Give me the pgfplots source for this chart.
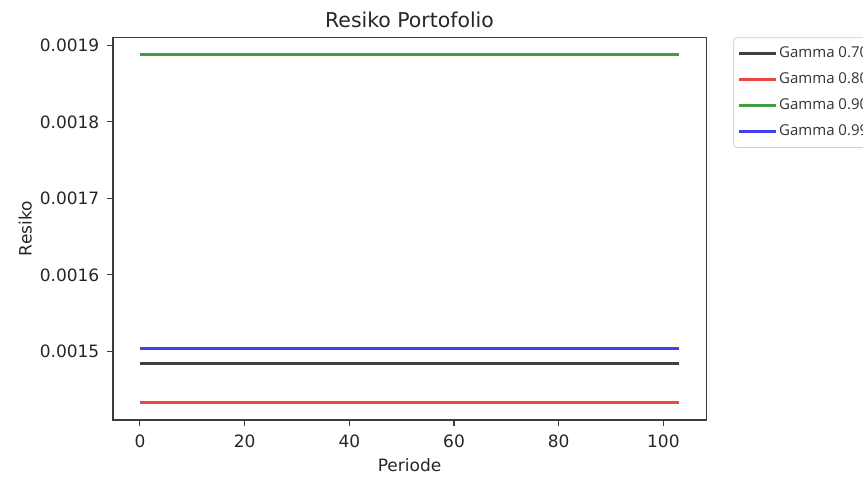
\documentclass[border=0pt]{standalone}
\usepackage{pgfplots}
\pgfplotsset{compat=1.18}
\usepackage{fontspec}
\setmainfont{DejaVu Sans}
\newfontfamily\legfont{Open Sans}
\definecolor{cK}{RGB}{64,64,64}
\definecolor{cR}{RGB}{240,68,68}
\definecolor{cG}{RGB}{64,158,64}
\definecolor{cB}{RGB}{64,64,240}
\definecolor{axgray}{RGB}{60,60,60}
\pgfplotsset{every axis title shift=0pt}
\begin{document}
\begin{tikzpicture}
\begin{axis}[
  at={(0,0)}, anchor=south west,
  scale only axis,
  width=348.7pt, height=225.0pt,
  xmin=-5.15, xmax=108.15,
  ymin=0.0014103, ymax=0.0019105,
  xtick={0,20,40,60,80,100},
  ytick={0.0015,0.0016,0.0017,0.0018,0.0019},
  scaled y ticks=false,
  yticklabel style={/pgf/number format/fixed, /pgf/number format/fixed zerofill, /pgf/number format/precision=4},
  /pgf/number format/assume math mode=true,
  tick label style={font=\fontsize{10}{12}\selectfont, color=black!85},
  xtick pos=left, ytick pos=left,
  tick align=outside,
  major tick length=3.5pt,
  every tick/.style={axgray, line width=0.6pt},
  axis line style={axgray, line width=0.6pt},
  xticklabel style={yshift=-2pt},
  yticklabel style={xshift=-1pt},
  title={Resiko Portofolio},
  title style={font=\fontsize{12}{14}\selectfont, at={(axis description cs:0.5,1.026)}, anchor=base, color=black!85},
  xlabel={Periode},
  ylabel={Resiko},
  label style={font=\fontsize{10}{12}\selectfont, color=black!85},
  xlabel style={at={(axis description cs:0.5,-0.118)}, anchor=center},
  ylabel style={at={(axis description cs:-0.148,0.5)}, anchor=center},
  legend style={
    at={(axis description cs:1.046,1.0)}, anchor=north west,
    draw=black!20, rounded corners=2pt, fill=white,
    font=\legfont\fontsize{8.8}{11}\selectfont, text=black!80,
    inner xsep=2pt, inner ysep=3.6pt,
    row sep=3.8pt,
    nodes={inner sep=1pt, text height=7pt, text depth=2.5pt},
    legend cell align=left,
  },
  legend image code/.code={\draw[#1, line width=1.8pt] (0pt,0pt) -- (22pt,0pt);},
]
\addplot[cK, line width=1.5pt] coordinates {(0,0.001484) (103,0.001484)};
\addlegendentry{Gamma 0.70}
\addplot[cR, line width=1.5pt] coordinates {(0,0.001433) (103,0.001433)};
\addlegendentry{Gamma 0.80}
\addplot[cG, line width=1.5pt] coordinates {(0,0.001888) (103,0.001888)};
\addlegendentry{Gamma 0.90}
\addplot[cB, line width=1.5pt] coordinates {(0,0.0015035) (103,0.0015035)};
\addlegendentry{Gamma 0.99}
\end{axis}
\pgfresetboundingbox
\path[use as bounding box] (-66.44pt,-33.52pt) rectangle (441.0pt,246.96pt);
\end{tikzpicture}
\end{document}
